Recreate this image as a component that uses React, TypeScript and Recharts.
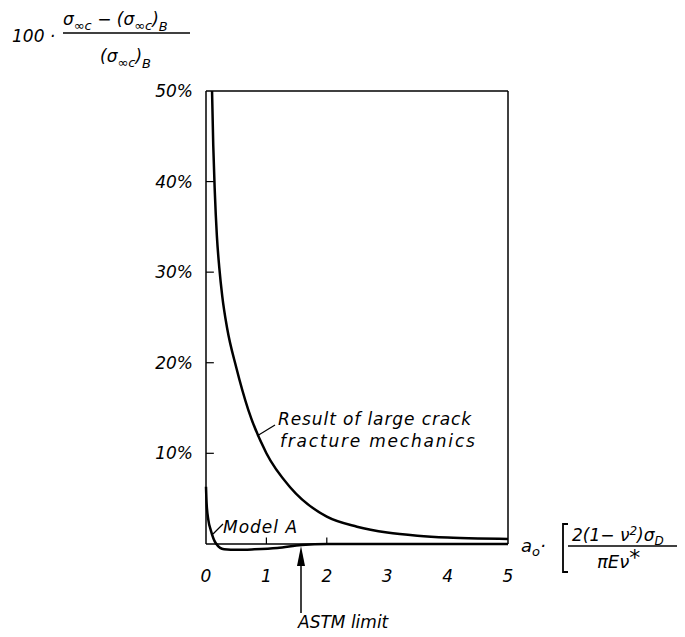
import { Line, LineChart, ReferenceLine, XAxis, YAxis } from 'recharts';

// values
const crackX = [0.1, 0.12, 0.145, 0.18, 0.22, 0.27, 0.35, 0.5, 0.7, 1.0, 1.4, 2.0, 2.5, 3.0, 3.5, 4.0, 4.5, 5.0];
const crackY = [50, 44, 39, 34, 30.5, 27.3, 23.8, 19.5, 14.8, 10, 6.2, 3.0, 1.9, 1.25, 0.9, 0.7, 0.6, 0.55];

const modelX = [0, 0.01, 0.04, 0.08, 0.16, 0.3, 0.52, 0.8, 1.18, 1.58, 2.0, 3.0, 4.0, 5.0];
const modelY = [6.3, 4.5, 2.6, 1.5, 0.1, -0.6, -0.66, -0.6, -0.45, -0.12, 0, 0, 0, 0];

const xTicks = [0, 1, 2, 3, 4, 5];
const yTicks = [10, 20, 30, 40, 50];
const innerYTicks = [10, 20, 30, 40];
const innerXTicks = [1, 2];

const crackData = crackX.map((x, i) => ({ x, v: crackY[i] }));
const modelData = modelX.map((x, i) => ({ x, v: modelY[i] }));

const FONT = 'DejaVu Sans';
const ink = '#000';
const tickStyle = { fill: ink, fontSize: 17, fontStyle: 'italic', fontFamily: FONT };

const App = () => {
  return (
    <div style={{ position: 'relative', width: 677, height: 621 }}>
      <LineChart
        width={677}
        height={621}
        margin={{ top: 83, right: 177, bottom: 37, left: 0 }}
      >
        <XAxis
          type="number"
          dataKey="x"
          domain={[0, 5]}
          ticks={xTicks}
          axisLine={false}
          tickLine={false}
          tickSize={0}
          tickMargin={8}
          height={30}
          tick={tickStyle}
        />
        <YAxis
          type="number"
          dataKey="v"
          domain={[-2, 50]}
          ticks={yTicks}
          tickFormatter={(v) => `${v}%`}
          axisLine={false}
          tickLine={false}
          tickSize={0}
          tickMargin={13}
          width={198}
          tick={tickStyle}
        />
        {/* frame */}
        <ReferenceLine y={0} stroke={ink} strokeWidth={1.5} />
        <ReferenceLine segment={[{ x: 0, y: 0 }, { x: 0, y: 50 }]} stroke={ink} strokeWidth={1.5} />
        <ReferenceLine segment={[{ x: 0, y: 50 }, { x: 5, y: 50 }]} stroke={ink} strokeWidth={1.5} />
        <ReferenceLine segment={[{ x: 5, y: 0 }, { x: 5, y: 50 }]} stroke={ink} strokeWidth={1.5} />
        {innerYTicks.map((t) => (
          <ReferenceLine key={`y${t}`} segment={[{ x: 0, y: t }, { x: 0.13, y: t }]} stroke={ink} strokeWidth={1.2} />
        ))}
        {innerXTicks.map((t) => (
          <ReferenceLine key={`x${t}`} segment={[{ x: t, y: 0 }, { x: t, y: 0.7 }]} stroke={ink} strokeWidth={1.2} />
        ))}
        <Line
          data={crackData}
          dataKey="v"
          type="monotone"
          stroke={ink}
          strokeWidth={2.5}
          dot={false}
          isAnimationActive={false}
        />
        <Line
          data={modelData}
          dataKey="v"
          type="monotone"
          stroke={ink}
          strokeWidth={2.5}
          dot={false}
          isAnimationActive={false}
        />
      </LineChart>

      <svg
        width={677}
        height={621}
        style={{ position: 'absolute', left: 0, top: 0, pointerEvents: 'none', overflow: 'visible' }}
        fontFamily={FONT}
        fontStyle="italic"
        fill={ink}
      >
        {/* y-axis quantity */}
        <text x={4} y={34} fontSize={17}>100 ·</text>
        <text x={55} y={17} fontSize={17}>
          σ<tspan fontSize={13} dy={5}>∞c</tspan>
          <tspan dy={-5}> − (σ</tspan>
          <tspan fontSize={13} dy={5}>∞c</tspan>
          <tspan dy={-5}>)</tspan>
          <tspan fontSize={13} dy={6}>B</tspan>
        </text>
        <line x1={55} x2={182} y1={25} y2={25} stroke={ink} strokeWidth={1.5} />
        <text x={92} y={54} fontSize={17}>
          (σ<tspan fontSize={13} dy={5}>∞c</tspan>
          <tspan dy={-5}>)</tspan>
          <tspan fontSize={13} dy={6}>B</tspan>
        </text>

        {/* x-axis quantity */}
        <text x={513} y={544} fontSize={18}>
          a<tspan fontSize={13} dy={4}>o</tspan>
          <tspan dy={-4}>·</tspan>
        </text>
        <path d="M560,516 H555 V564 H560" fill="none" stroke={ink} strokeWidth={1.8} />
        <path d="M669,516 H674 V564 H669" fill="none" stroke={ink} strokeWidth={1.8} />
        <text x={564} y={533} fontSize={17}>
          2(1− ν<tspan fontSize={12} dy={-6}>2</tspan>
          <tspan dy={6}>)σ</tspan>
          <tspan fontSize={12} dy={4}>D</tspan>
        </text>
        <line x1={560} x2={670} y1={538} y2={538} stroke={ink} strokeWidth={1.5} />
        <text x={589} y={560} fontSize={18}>
          πEν<tspan fontSize={22} dy={-3}>*</tspan>
        </text>

        {/* annotations */}
        <text x={270} y={417} fontSize={17} letterSpacing={0.9}>Result of large crack</text>
        <text x={272} y={439} fontSize={17} letterSpacing={1.8}>fracture mechanics</text>
        <line x1={267} y1={417} x2={249} y2={428} stroke={ink} strokeWidth={1.2} />
        <text x={215} y={525} fontSize={17} letterSpacing={1}>Model A</text>
        <line x1={215} y1={516} x2={205} y2={526} stroke={ink} strokeWidth={1.2} />
        <line x1={293} y1={556} x2={293} y2={605} stroke={ink} strokeWidth={1.5} />
        <path d="M293,538 L289,558 L297,558 Z" fill={ink} />
        <text x={290} y={620} fontSize={17}>ASTM limit</text>
      </svg>
    </div>
  );
};

export default App;
